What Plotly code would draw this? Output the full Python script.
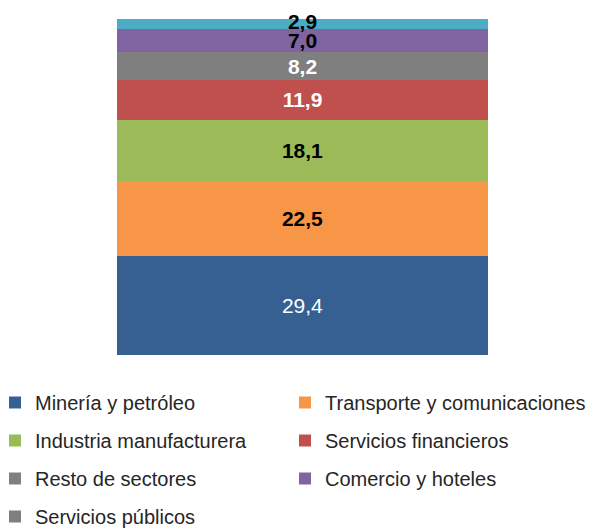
import plotly.graph_objects as go

categories = ["Total"]
sectors = ["Minería y petróleo", "Transporte y comunicaciones", "Industria manufacturera",
           "Servicios financieros", "Resto de sectores", "Comercio y hoteles", "Servicios públicos"]
values = [29.4, 22.5, 18.1, 11.9, 8.2, 7.0, 2.9]
labels = ["29,4", "22,5", "18,1", "11,9", "8,2", "7,0", "2,9"]
colors = ["#376092", "#F79646", "#9BBB59", "#C0504D", "#7F7F7F", "#8064A2", "#4BACC6"]
label_colors = ["white", "black", "black", "white", "white", "black", "black"]
label_weights = ["normal", "bold", "bold", "bold", "bold", "bold", "bold"]
legend_swatch = ["#376092", "#F79646", "#9BBB59", "#C0504D", "#7F7F7F", "#8064A2", "#7F7F7F"]
legend_col = ["legend", "legend2", "legend", "legend2", "legend", "legend2", "legend"]

FONT = "Liberation Sans, Arial, sans-serif"
LABEL_SIZE = 21

fig = go.Figure()
cum = 0.0
for i, s in enumerate(sectors):
    same = legend_swatch[i] == colors[i]
    small = values[i] < 5  # label larger than its segment: draw as text mark over it
    fig.add_trace(go.Bar(
        x=categories, y=[values[i]], name=s,
        marker=dict(color=colors[i], line=dict(width=0)),
        text=[labels[i]], textposition="none" if small else "inside",
        insidetextanchor="middle", constraintext="none", textangle=0,
        textfont=dict(family=FONT, size=LABEL_SIZE, color=label_colors[i], weight=label_weights[i]),
        cliponaxis=False, width=1,
        showlegend=same, legend=legend_col[i], legendgroup="g%d" % i,
        hoverinfo="skip",
    ))
    if small:
        fig.add_trace(go.Scatter(
            x=categories, y=[cum + values[i] / 2], mode="text", text=[labels[i]],
            textposition="middle center",
            textfont=dict(family=FONT, size=LABEL_SIZE, color=label_colors[i], weight=label_weights[i]),
            cliponaxis=False, showlegend=False, hoverinfo="skip",
        ))
    if not same:
        # legend-only swatch (zero-height bar) matching the reference legend colour
        fig.add_trace(go.Bar(
            x=categories, y=[0], name=s,
            marker=dict(color=legend_swatch[i], line=dict(width=0)),
            width=1,
            showlegend=True, legend=legend_col[i], legendgroup="g%d" % i,
            hoverinfo="skip",
        ))
    cum += values[i]

legend_common = dict(
    orientation="v", traceorder="grouped", tracegroupgap=9,
    font=dict(family=FONT, size=20, color="#262626"),
    bgcolor="rgba(0,0,0,0)", borderwidth=0,
    yref="container", xanchor="left", yanchor="top",
    itemclick=False, itemdoubleclick=False,
)

fig.update_layout(
    width=598, height=531,
    barmode="stack",
    plot_bgcolor="white", paper_bgcolor="white",
    margin=dict(l=117, r=110, t=19, b=176, autoexpand=False),
    xaxis=dict(visible=False, range=[-0.5, 0.5]),
    yaxis=dict(visible=False, range=[0, 100]),
    legend=dict(xref="paper", x=(-5 - 117) / 371, y=1 - 383 / 531, **legend_common),
    legend2=dict(xref="container", x=285 / 598, y=1 - 383 / 531, **legend_common),
    showlegend=True,
    hovermode=False,
)

fig.write_html("out.html", config={"displayModeBar": False},
               post_script="document.body.style.margin='0';")
